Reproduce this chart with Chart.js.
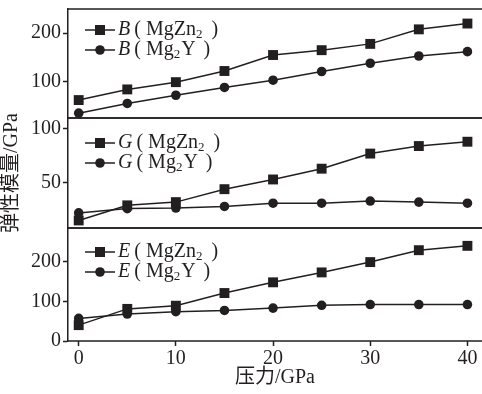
<!DOCTYPE html>
<html>
<head>
<meta charset="utf-8">
<title>弹性模量</title>
<script src="https://cdn.jsdelivr.net/npm/chart.js@4.4.1/dist/chart.umd.min.js"></script>
<style>
  html, body { margin: 0; padding: 0; background: #fff; }
  #wrap { position: relative; width: 482px; height: 394px; overflow: hidden; }
  #wrap canvas { position: absolute; left: 0; }
</style>
</head>
<body>
<div id="wrap">
  <canvas id="c1" width="482" height="120" style="top:0px"></canvas>
  <canvas id="c3" width="482" height="167" style="top:227px"></canvas>
  <canvas id="c2" width="482" height="240" style="top:60px"></canvas>
</div>
<script>
// data
const pressure = [0, 5, 10, 15, 20, 25, 30, 35, 40];
const bMgZn2 = [62, 84, 99, 122, 155, 165, 178, 208, 220];
const bMg2Y  = [35, 55, 72, 88, 103, 121, 138, 153, 162];
const gMgZn2 = [15, 29, 32, 44, 53, 63, 77, 84, 88];
const gMg2Y  = [22, 26, 26.5, 28, 31, 31, 33, 32, 31];
const eMgZn2 = [40, 81, 89, 121, 148, 173, 199, 229, 240];
const eMg2Y  = [57, 68, 74, 77, 83, 90, 92, 92, 92];

const xTicks = [0, 10, 20, 30, 40];
const bTicks = [100, 200];
const gTicks = [50, 100];
const eTicks = [0, 100, 200];

const INK = '#231f20';
const SERIF = '"Liberation Serif", "Noto Sans CJK SC", serif';

function pts(ys) { return pressure.map((x, i) => ({ x: x, y: ys[i] })); }

function ds(ys, style) {
  return {
    data: pts(ys),
    borderColor: INK,
    backgroundColor: INK,
    borderWidth: 1.5,
    pointStyle: style,
    pointRadius: style === 'rect' ? 7 : 4.8,
    pointHoverRadius: style === 'rect' ? 7 : 4.8,
    pointBorderWidth: 0,
    clip: false,
    tension: 0
  };
}

// frame lines: top and bottom of each panel
const framePlugin = {
  id: 'frame',
  beforeDatasetsDraw(chart) {
    const a = chart.chartArea, ctx = chart.ctx;
    ctx.save();
    ctx.strokeStyle = INK;
    ctx.lineWidth = 1.5;
    ctx.beginPath();
    ctx.moveTo(a.left, a.top); ctx.lineTo(chart.width, a.top);
    ctx.moveTo(a.left, a.bottom); ctx.lineTo(chart.width, a.bottom);
    ctx.stroke();
    ctx.restore();
  }
};

// legend with italic symbol and subscript
const legendPlugin = {
  id: 'panelLegend',
  afterDraw(chart, args, o) {
    const a = chart.chartArea, ctx = chart.ctx;
    ctx.save();
    ctx.fillStyle = INK; ctx.strokeStyle = INK;
    ctx.textBaseline = 'middle';
    o.items.forEach((it, i) => {
      const y = a.top + o.y0 + i * o.dy;
      ctx.lineWidth = 1.5;
      ctx.beginPath();
      ctx.moveTo(a.left + 17, y); ctx.lineTo(a.left + 47, y);
      ctx.stroke();
      const mx = a.left + 32;
      ctx.beginPath();
      if (it.style === 'rect') ctx.rect(mx - 5, y - 5, 10, 10);
      else ctx.arc(mx, y, 4.8, 0, Math.PI * 2);
      ctx.fill();
      let x = a.left + 50;
      ctx.font = 'italic 20px "Liberation Serif"';
      ctx.fillText(o.letter, x, y);
      x += ctx.measureText(o.letter).width + 4;
      ctx.font = '20px "Liberation Serif"';
      ctx.fillText('(', x, y);
      x += ctx.measureText('(').width + 5;
      ctx.fillText(it.name[0], x, y);
      x += ctx.measureText(it.name[0]).width;
      ctx.font = '13px "Liberation Serif"';
      ctx.fillText(it.name[1], x, y + 5);
      x += ctx.measureText(it.name[1]).width + 1;
      ctx.font = '20px "Liberation Serif"';
      if (it.name[2]) {
        ctx.fillText(it.name[2], x, y);
        x += ctx.measureText(it.name[2]).width;
      }
      x += 8;
      ctx.fillText(')', x, y);
    });
    ctx.restore();
  }
};

const legendItems = [
  { style: 'rect', name: ['MgZn', '2', ''] },
  { style: 'circle', name: ['Mg', '2', 'Y'] }
];

function yAxis(min, max, ticks, title) {
  return {
    type: 'linear',
    min: min, max: max,
    afterFit(s) { s.width = 68; s.paddingTop = 0; s.paddingBottom = 0; },
    afterBuildTicks(s) { s.ticks = ticks.map(v => ({ value: v })); },
    grid: { drawOnChartArea: false, tickLength: 5, tickColor: INK, tickWidth: 1.5 },
    border: { display: true, color: INK, width: 1.5 },
    ticks: { font: { family: SERIF, size: 20 }, color: INK, padding: 2 },
    title: title ? {
      display: true, text: title, color: INK,
      font: { family: SERIF, size: 20 }, padding: { top: 0, bottom: 0 }
    } : { display: false }
  };
}

function xAxis(show) {
  const ax = {
    type: 'linear', min: -1.1, max: 41.5,
    afterBuildTicks(s) { s.ticks = xTicks.map(v => ({ value: v })); }
  };
  if (!show) { ax.display = false; return ax; }
  return Object.assign(ax, {
    afterFit(s) { s.height = 53; s.paddingLeft = 0; s.paddingRight = 0; },
    grid: { drawOnChartArea: false, tickLength: 5, tickColor: INK, tickWidth: 1.5 },
    border: { display: false },
    ticks: { font: { family: SERIF, size: 20 }, color: INK, padding: 1, maxRotation: 0 },
    title: {
      display: true, text: '压力/GPa', color: INK,
      font: { family: SERIF, size: 20 }, padding: { top: 0, bottom: 4 }
    }
  });
}

function makeChart(id, letter, s1, s2, yMin, yMax, yTicks, yTitle, showX, pad, legY0) {
  return new Chart(document.getElementById(id), {
    type: 'line',
    data: { datasets: [ds(s1, 'rect'), ds(s2, 'circle')] },
    options: {
      responsive: false,
      animation: false,
      events: [],
      layout: { padding: pad, autoPadding: false },
      scales: { x: xAxis(showX), y: yAxis(yMin, yMax, yTicks, yTitle) },
      plugins: {
        legend: { display: false },
        tooltip: { enabled: false },
        panelLegend: { letter: letter, items: legendItems, y0: legY0, dy: 20 }
      }
    },
    plugins: [framePlugin, legendPlugin]
  });
}

makeChart('c1', 'B', bMgZn2, bMg2Y, 25, 250, bTicks, null, false,
  { top: 9, bottom: 2, left: 0, right: 0 }, 21);
makeChart('c2', 'G', gMgZn2, gMg2Y, 8, 110, gTicks, '弹性模量/GPa', false,
  { top: 58, bottom: 72, left: 0, right: 0 }, 25);
makeChart('c3', 'E', eMgZn2, eMg2Y, 0, 285, eTicks, null, true,
  { top: 1, bottom: 0, left: 0, right: 0 }, 24);
</script>
</body>
</html>
